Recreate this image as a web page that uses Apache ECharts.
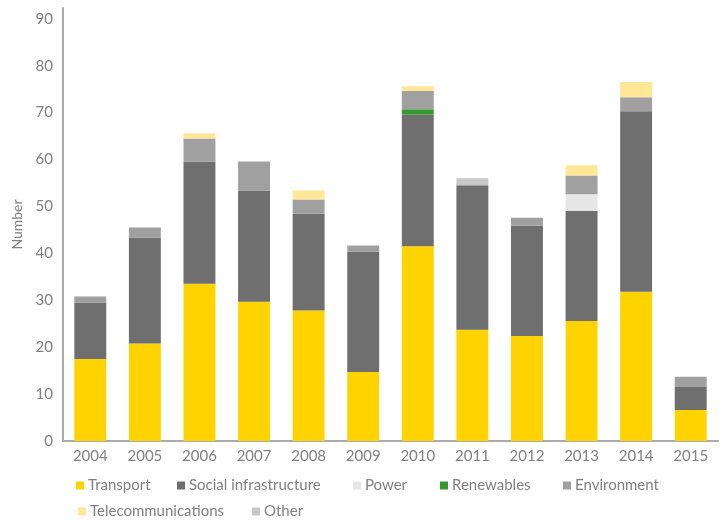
<!DOCTYPE html>
<html>
<head>
<meta charset="utf-8">
<script src="https://cdn.jsdelivr.net/npm/echarts@6/dist/echarts.min.js"></script>
<style>
html,body{margin:0;padding:0;background:#fff;}
#chart{width:726px;height:522px;}
</style>
</head>
<body>
<div id="chart"></div>
<script>
var years = ['2004','2005','2006','2007','2008','2009','2010','2011','2012','2013','2014','2015'];
var transport      = [17.5, 20.8, 33.5, 29.7, 27.8, 14.7, 41.5, 23.7, 22.4, 25.6, 31.8, 6.6];
var social         = [12.0, 22.6, 26.1, 23.7, 20.7, 25.7, 28.1, 30.8, 23.5, 23.5, 38.5, 4.9];
var power          = [0, 0, 0, 0, 0, 0, 0, 0, 0, 3.5, 0, 0];
var renewables     = [0, 0, 0, 0, 0, 0, 1.1, 0, 0, 0, 0, 0];
var environment    = [1.3, 2.1, 4.9, 6.2, 3.0, 1.3, 3.9, 0, 1.7, 4.0, 3.0, 2.2];
var telecom        = [0, 0, 1.1, 0, 1.9, 0, 1.0, 0, 0, 2.2, 3.2, 0];
var other          = [0, 0, 0, 0, 0, 0, 0, 1.5, 0, 0, 0, 0];

var names  = ['Transport','Social infrastructure','Power','Renewables','Environment','Telecommunications','Other'];
var values = [transport, social, power, renewables, environment, telecom, other];
var colors = ['#FFD300','#6F6F6F','#E6E6E6','#36992E','#A0A0A0','#FFE797','#C8C8C8'];

var FONT = 'Lato, "Open Sans", sans-serif';
var TXT = '#808080';

var series = names.map(function(n, i){
  return {
    name: n, type: 'bar', stack: 'total',
    data: values[i],
    barCategoryGap: '41.5%',
    itemStyle: {color: colors[i]},
    emphasis: {disabled: true}
  };
});

var legendPos = [
  [76, 478], [177, 478], [353, 478], [440, 478], [563, 478],
  [78, 504], [252, 504]
];
var legends = names.map(function(n, i){
  return {
    data: [n], left: legendPos[i][0], top: legendPos[i][1],
    padding: 0, itemWidth: 8, itemHeight: 8, itemGap: 0,
    icon: 'rect', selectedMode: false,
    textStyle: {color: TXT, fontSize: 15, fontFamily: FONT, padding: [0,0,0,-1]}
  };
});

var chart = echarts.init(document.getElementById('chart'), null, {renderer: 'canvas'});
chart.setOption({
  animation: false,
  backgroundColor: '#ffffff',
  grid: {left: 63, right: 8, top: 8, bottom: 81, containLabel: false},
  legend: legends,
  xAxis: {
    type: 'category', data: years,
    axisLine: {lineStyle: {color: '#ABABAB', width: 2}},
    axisTick: {show: false},
    axisLabel: {color: TXT, fontSize: 15, fontFamily: FONT, margin: 8}
  },
  yAxis: {
    type: 'value', min: 0, max: 92.3, interval: 10,
    name: 'Number', nameLocation: 'middle', nameGap: 35,
    nameTextStyle: {color: TXT, fontSize: 14, fontFamily: FONT},
    axisLine: {show: true, lineStyle: {color: '#ABABAB', width: 2}},
    axisTick: {show: false},
    splitLine: {show: false},
    axisLabel: {
      color: TXT, fontSize: 15, fontFamily: FONT, margin: 10, showMaxLabel: false,
      formatter: function(v){ return (Math.abs(v % 10) < 1e-6) ? String(v) : ''; }
    }
  },
  series: series
});
</script>
</body>
</html>
